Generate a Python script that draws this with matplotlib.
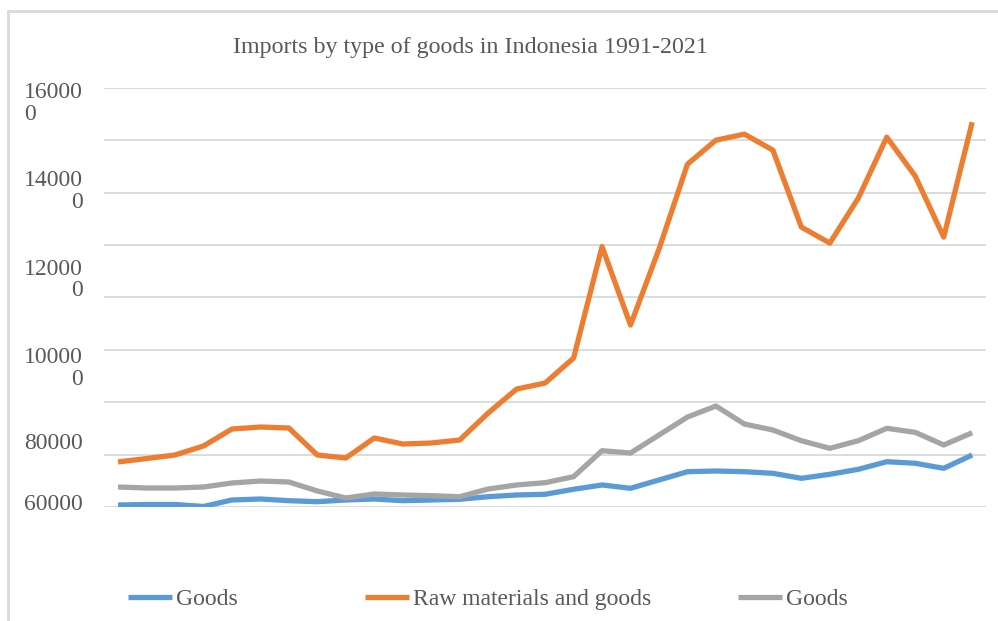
import matplotlib.pyplot as plt
from matplotlib.lines import Line2D

years = list(range(1991, 2022))

consumer_goods = [760, 950, 950, 200, 2670, 3050, 2400, 2020, 2670, 3050,
                  2400, 2670, 2940, 3930, 4580, 4850, 6760, 8400, 7140, 10310,
                  13470, 13740, 13470, 12860, 10950, 12480, 14390, 17290, 16680, 14770,
                  19850]
raw_materials = [17200, 18500, 19850, 23280, 29770, 30540, 30150, 19850, 18700, 26340,
                 24050, 24430, 25570, 35880, 45040, 47330, 56870, 99430, 69470, 98480,
                 130920, 140080, 142370, 136270, 106880, 100770, 117940, 141230, 126340, 103060,
                 146950]
capital_goods = [7630, 7250, 7250, 7630, 9160, 9920, 9540, 6110, 3435, 4960,
                 4580, 4310, 3930, 6870, 8400, 9280, 11570, 21490, 20610, 27480,
                 34350, 38550, 31680, 29390, 25310, 22400, 25310, 30040, 28510, 23670,
                 28360]

series_names = ["Goods", "Raw materials and goods", "Goods"]
series_colors = ["#5B9BD5", "#ED7D31", "#A5A5A5"]

# the y labels are wrapped and shifted in the original, keep them as shown
y_labels = ["16000\n0", "14000\n0", "12000\n0", "10000\n0", "80000", "60000"]
y_label_pos = [154200, 120400, 86650, 52870, 24430, 760]
grid_values = list(range(0, 160001, 20000))

TEXT_COLOR = "#595959"
GRID_COLOR = "#D9D9D9"

plt.rcParams["font.family"] = ["Liberation Serif", "DejaVu Serif"]

fig = plt.figure(figsize=(9.98, 6.21), dpi=100)
ax = fig.add_axes([0.104, 0.1836, 0.8844, 0.6747])

x = list(range(len(years)))
all_series = [consumer_goods, raw_materials, capital_goods]
for values, name, color in zip(all_series, series_names, series_colors):
    ax.plot(x, values, color=color, linewidth=3.8, label=name,
            solid_joinstyle="round", solid_capstyle="butt", zorder=3)

for g in grid_values:
    ax.axhline(g, color=GRID_COLOR, linewidth=1.3, zorder=1)

ax.set_xlim(-0.5, len(years) - 0.5)
ax.set_ylim(0, 160000)
ax.set_xticks([])
ax.set_yticks([])
for spine in ax.spines.values():
    spine.set_visible(False)

for label, pos in zip(y_labels, y_label_pos):
    ax.text(-0.0236, pos, label, transform=ax.get_yaxis_transform(),
            ha="right", va="center", fontsize=17, color=TEXT_COLOR,
            linespacing=1.05,
            multialignment="left" if label.startswith("16000") else "right")

fig.text(470 / 998, 1 - 48 / 621, "Imports by type of goods in Indonesia 1991-2021",
         ha="center", va="center", fontsize=17.3, color=TEXT_COLOR)

# chart-area border (only top and left visible in the original)
fig.add_artist(Line2D([7.5 / 998, 7.5 / 998], [0, 1 - 11 / 621],
                      transform=fig.transFigure, color=GRID_COLOR, linewidth=2))
fig.add_artist(Line2D([7.5 / 998, 1.01], [1 - 11 / 621, 1 - 11 / 621],
                      transform=fig.transFigure, color=GRID_COLOR, linewidth=2))

# legend entries spaced like the original
handles, labels = ax.get_legend_handles_labels()
legend_x = [128, 365, 738]
for h, lab, lx in zip(handles, labels, legend_x):
    leg = fig.legend([h], [lab], loc="center left",
                     bbox_to_anchor=(lx / 998, 1 - 599 / 621),
                     frameon=False, fontsize=17, handlelength=1.85,
                     handletextpad=0.2, borderpad=0, borderaxespad=0)
    for t in leg.get_texts():
        t.set_color(TEXT_COLOR)

fig.savefig("out.png", dpi=100)
